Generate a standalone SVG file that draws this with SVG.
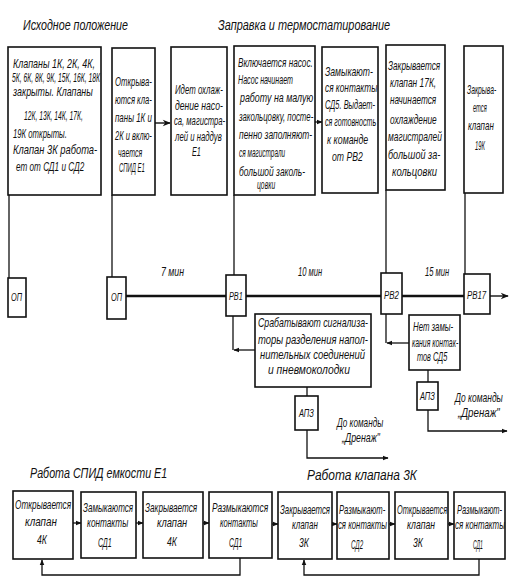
<svg xmlns="http://www.w3.org/2000/svg" width="514" height="583" viewBox="0 0 514 583">
<defs>
<marker id="ah" viewBox="0 0 10 10" refX="9" refY="5" markerWidth="6" markerHeight="6" orient="auto" markerUnits="userSpaceOnUse">
<path d="M0,1 L10,5 L0,9 Z" fill="#111"/>
</marker>
<marker id="ahb" viewBox="0 0 10 10" refX="9" refY="5" markerWidth="9" markerHeight="8" orient="auto" markerUnits="userSpaceOnUse">
<path d="M0,1 L10,5 L0,9 L3,5 Z" fill="#111"/>
</marker>
<style>
rect{fill:#fff;stroke:#111;stroke-width:1.6}
text{font-family:"Liberation Sans",Arial,sans-serif;font-style:italic;fill:#111;font-size:12px}
.h{font-size:15px}
.s{font-size:11px}
.l{fill:none;stroke:#111;stroke-width:1.3}
.m{fill:none;stroke:#111;stroke-width:2.4}
.a{fill:none;stroke:#111;stroke-width:1.3;marker-end:url(#ah)}
.ab{fill:none;stroke:#111;stroke-width:1.4;marker-end:url(#ahb)}
</style>
</defs>
<rect x="0" y="0" width="514" height="583" style="fill:#fff;stroke:none"/>

<g id="titles">
<text class="h" transform="matrix(.7 0 0 1 23 30)" textLength="150" lengthAdjust="spacingAndGlyphs">Исходное положение</text>
<text class="h" transform="matrix(.7 0 0 1 218 30)" textLength="246" lengthAdjust="spacingAndGlyphs">Заправка и термостатирование</text>
<text class="h" transform="matrix(.7 0 0 1 30 478)" textLength="196" lengthAdjust="spacingAndGlyphs">Работа СПИД емкости Е1</text>
<text class="h" transform="matrix(.7 0 0 1 307 480)" textLength="157" lengthAdjust="spacingAndGlyphs">Работа клапана 3К</text>
<text transform="matrix(.55 0 0 1 161 276)" textLength="42" lengthAdjust="spacingAndGlyphs">7 мин</text>
<text transform="matrix(.55 0 0 1 298 276)" textLength="44" lengthAdjust="spacingAndGlyphs">10 мин</text>
<text transform="matrix(.55 0 0 1 425 276)" textLength="44" lengthAdjust="spacingAndGlyphs">15 мин</text>
<text transform="matrix(.55 0 0 1 337 427)" textLength="84" lengthAdjust="spacingAndGlyphs">До команды</text>
<text transform="matrix(.55 0 0 1 342 442)" textLength="69" lengthAdjust="spacingAndGlyphs">„Дренаж"</text>
<text transform="matrix(.55 0 0 1 455 402)" textLength="87" lengthAdjust="spacingAndGlyphs">До команды</text>
<text transform="matrix(.55 0 0 1 458 417)" textLength="76" lengthAdjust="spacingAndGlyphs">„Дренаж"</text>
</g>

<g id="connectors">
<path class="l" d="M9,195 V278"/>
<path class="l" d="M112,195 V277"/>
<path class="l" d="M234,195 V275"/>
<path class="l" d="M386,190 V273"/>
<path class="l" d="M465,193 V274"/>
<path class="m" d="M126,296 H226"/>
<path class="m" d="M246,296 H381"/>
<path class="m" d="M402,296 H464"/>
<path class="ab" d="M490,296 H508"/>
<path class="ab" d="M155,123 H170"/>
<path class="a" d="M315,122 H322"/>
<path class="l" d="M233,316 V350"/>
<path class="a" d="M255,350 H234"/>
<path class="l" d="M386,314 V343"/>
<path class="a" d="M409,343 H387"/>
<path class="l" d="M307,387 V396"/>
<path class="a" d="M307,430 V458 H388"/>
<path class="l" d="M428,370 V382"/>
<path class="a" d="M428,410 V431 H507"/>
<path class="a" d="M73,523 H81"/>
<path class="a" d="M136,523 H143"/>
<path class="a" d="M203,523 H209"/>
<path class="a" d="M272,524 H278"/>
<path class="a" d="M332,524 H337"/>
<path class="a" d="M389,524 H395"/>
<path class="a" d="M448,524 H454"/>
<path class="a" d="M240,558 V575 H42 V560"/>
<path class="a" d="M479,559 V575 H304 V560"/>
</g>

<g id="n1">
<rect x="8" y="47" width="93" height="148"/>
<text transform="matrix(.55 0 0 1 13 68)" textLength="149" lengthAdjust="spacingAndGlyphs">Клапаны 1К, 2К, 4К,</text>
<text transform="matrix(.55 0 0 1 12 82)" textLength="160" lengthAdjust="spacingAndGlyphs">5К, 6К, 8К, 9К, 15К, 16К, 18К</text>
<text transform="matrix(.55 0 0 1 13 96)" textLength="145" lengthAdjust="spacingAndGlyphs">закрыты. Клапаны</text>
<text transform="matrix(.55 0 0 1 24 120)" textLength="107" lengthAdjust="spacingAndGlyphs">12К, 13К, 14К, 17К,</text>
<text transform="matrix(.55 0 0 1 13 138)" textLength="98" lengthAdjust="spacingAndGlyphs">19К открыты.</text>
<text transform="matrix(.55 0 0 1 13 154)" textLength="153" lengthAdjust="spacingAndGlyphs">Клапан 3К работа-</text>
<text transform="matrix(.55 0 0 1 16 171)" textLength="124" lengthAdjust="spacingAndGlyphs">ет от СД1 и СД2</text>
</g>
<g id="n2">
<rect x="112" y="48" width="43" height="147"/>
<text transform="matrix(.55 0 0 1 115 86)" textLength="67" lengthAdjust="spacingAndGlyphs">Открыва-</text>
<text transform="matrix(.55 0 0 1 115 104)" textLength="67" lengthAdjust="spacingAndGlyphs">ются кла-</text>
<text transform="matrix(.55 0 0 1 115 122)" textLength="67" lengthAdjust="spacingAndGlyphs">паны 1К и</text>
<text transform="matrix(.55 0 0 1 115 140)" textLength="67" lengthAdjust="spacingAndGlyphs">2К и вклю-</text>
<text transform="matrix(.55 0 0 1 118 157)" textLength="44" lengthAdjust="spacingAndGlyphs">чается</text>
<text transform="matrix(.55 0 0 1 119 172)" textLength="47" lengthAdjust="spacingAndGlyphs">СПИД Е1</text>
</g>
<g id="n3">
<rect x="171" y="47" width="56" height="148"/>
<text transform="matrix(.55 0 0 1 175 94)" textLength="87" lengthAdjust="spacingAndGlyphs">Идет охлаж-</text>
<text transform="matrix(.55 0 0 1 175 110)" textLength="87" lengthAdjust="spacingAndGlyphs">дение насо-</text>
<text transform="matrix(.55 0 0 1 174 125)" textLength="93" lengthAdjust="spacingAndGlyphs">са, магистра-</text>
<text transform="matrix(.55 0 0 1 175 141)" textLength="85" lengthAdjust="spacingAndGlyphs">лей и наддув</text>
<text transform="matrix(.55 0 0 1 192 156)" textLength="16" lengthAdjust="spacingAndGlyphs">Е1</text>
</g>
<g id="n4">
<rect x="234" y="46" width="81" height="149"/>
<text transform="matrix(.55 0 0 1 238 67)" textLength="136" lengthAdjust="spacingAndGlyphs">Включается насос.</text>
<text transform="matrix(.55 0 0 1 238 84)" textLength="100" lengthAdjust="spacingAndGlyphs">Насос начинает</text>
<text transform="matrix(.55 0 0 1 240 102)" textLength="133" lengthAdjust="spacingAndGlyphs">работу на малую</text>
<text transform="matrix(.55 0 0 1 239 121)" textLength="135" lengthAdjust="spacingAndGlyphs">закольцовку, посте-</text>
<text transform="matrix(.55 0 0 1 239 139)" textLength="133" lengthAdjust="spacingAndGlyphs">пенно заполняют-</text>
<text transform="matrix(.55 0 0 1 239 157)" textLength="84" lengthAdjust="spacingAndGlyphs">ся магистрали</text>
<text transform="matrix(.55 0 0 1 239 176)" textLength="120" lengthAdjust="spacingAndGlyphs">большой заколь-</text>
<text transform="matrix(.55 0 0 1 257 189)" textLength="33" lengthAdjust="spacingAndGlyphs">цовки</text>
</g>
<g id="n5">
<rect x="322" y="47" width="56" height="146"/>
<text transform="matrix(.55 0 0 1 325 76)" textLength="87" lengthAdjust="spacingAndGlyphs">Замыкают-</text>
<text transform="matrix(.55 0 0 1 325 92)" textLength="95" lengthAdjust="spacingAndGlyphs">ся контакты</text>
<text transform="matrix(.55 0 0 1 325 109)" textLength="91" lengthAdjust="spacingAndGlyphs">СД5. Выдает-</text>
<text transform="matrix(.55 0 0 1 325 126)" textLength="93" lengthAdjust="spacingAndGlyphs">ся готовность</text>
<text transform="matrix(.55 0 0 1 327 144)" textLength="75" lengthAdjust="spacingAndGlyphs">к команде</text>
<text transform="matrix(.55 0 0 1 332 161)" textLength="56" lengthAdjust="spacingAndGlyphs">от РВ2</text>
</g>
<g id="n6">
<rect x="386" y="45" width="59" height="145"/>
<text transform="matrix(.55 0 0 1 388 70)" textLength="95" lengthAdjust="spacingAndGlyphs">Закрывается</text>
<text transform="matrix(.55 0 0 1 390 87)" textLength="84" lengthAdjust="spacingAndGlyphs">клапан 17К,</text>
<text transform="matrix(.55 0 0 1 390 104)" textLength="84" lengthAdjust="spacingAndGlyphs">начинается</text>
<text transform="matrix(.55 0 0 1 390 124)" textLength="85" lengthAdjust="spacingAndGlyphs">охлаждение</text>
<text transform="matrix(.55 0 0 1 388 141)" textLength="98" lengthAdjust="spacingAndGlyphs">магистралей</text>
<text transform="matrix(.55 0 0 1 388 159)" textLength="95" lengthAdjust="spacingAndGlyphs">большой за-</text>
<text transform="matrix(.55 0 0 1 392 176)" textLength="82" lengthAdjust="spacingAndGlyphs">кольцовки</text>
</g>
<g id="n7">
<rect x="464" y="46" width="39" height="147"/>
<text transform="matrix(.55 0 0 1 467 94)" textLength="53" lengthAdjust="spacingAndGlyphs">Закрыва-</text>
<text transform="matrix(.55 0 0 1 473 112)" textLength="25" lengthAdjust="spacingAndGlyphs">ется</text>
<text transform="matrix(.55 0 0 1 468 130)" textLength="47" lengthAdjust="spacingAndGlyphs">клапан</text>
<text transform="matrix(.55 0 0 1 475 150)" textLength="18" lengthAdjust="spacingAndGlyphs">19К</text>
</g>

<g id="op1"><rect x="8" y="278" width="18" height="39"/><text class="s" transform="matrix(.55 0 0 1 11 301)" textLength="20" lengthAdjust="spacingAndGlyphs">ОП</text></g>
<g id="op2"><rect x="107" y="277" width="19" height="42"/><text class="s" transform="matrix(.55 0 0 1 111 301)" textLength="20" lengthAdjust="spacingAndGlyphs">ОП</text></g>
<g id="rv1"><rect x="226" y="275" width="20" height="41"/><text class="s" transform="matrix(.55 0 0 1 229 300)" textLength="25" lengthAdjust="spacingAndGlyphs">РВ1</text></g>
<g id="rv2"><rect x="381" y="273" width="21" height="41"/><text class="s" transform="matrix(.55 0 0 1 384 299)" textLength="27" lengthAdjust="spacingAndGlyphs">РВ2</text></g>
<g id="rv17"><rect x="464" y="274" width="26" height="40"/><text class="s" transform="matrix(.55 0 0 1 467 299)" textLength="35" lengthAdjust="spacingAndGlyphs">РВ17</text></g>

<g id="signal">
<rect x="255" y="314" width="116" height="73"/>
<text transform="matrix(.55 0 0 1 258 327)" textLength="200" lengthAdjust="spacingAndGlyphs">Срабатывают сигнализа-</text>
<text transform="matrix(.55 0 0 1 258 344)" textLength="200" lengthAdjust="spacingAndGlyphs">торы разделения напол-</text>
<text transform="matrix(.55 0 0 1 260 359)" textLength="191" lengthAdjust="spacingAndGlyphs">нительных соединений</text>
<text transform="matrix(.55 0 0 1 268 374)" textLength="149" lengthAdjust="spacingAndGlyphs">и пневмоколодки</text>
</g>
<g id="nozam">
<rect x="409" y="315" width="51" height="55"/>
<text transform="matrix(.55 0 0 1 413 331)" textLength="73" lengthAdjust="spacingAndGlyphs">Нет замы-</text>
<text transform="matrix(.55 0 0 1 412 347)" textLength="84" lengthAdjust="spacingAndGlyphs">кания контак-</text>
<text transform="matrix(.55 0 0 1 417 361)" textLength="55" lengthAdjust="spacingAndGlyphs">тов СД5</text>
</g>
<g id="apz1"><rect x="295" y="396" width="23" height="34"/><text class="s" transform="matrix(.55 0 0 1 299 417)" textLength="27" lengthAdjust="spacingAndGlyphs">АПЗ</text></g>
<g id="apz2"><rect x="417" y="382" width="21" height="28"/><text class="s" transform="matrix(.55 0 0 1 420 400)" textLength="27" lengthAdjust="spacingAndGlyphs">АПЗ</text></g>

<g id="b1">
<rect x="13" y="491" width="60" height="68"/>
<text transform="matrix(.55 0 0 1 15 509)" textLength="102" lengthAdjust="spacingAndGlyphs">Открывается</text>
<text transform="matrix(.55 0 0 1 25 526)" textLength="58" lengthAdjust="spacingAndGlyphs">клапан</text>
<text transform="matrix(.55 0 0 1 37 544)" textLength="18" lengthAdjust="spacingAndGlyphs">4К</text>
</g>
<g id="b2">
<rect x="81" y="492" width="55" height="66"/>
<text transform="matrix(.55 0 0 1 83 512)" textLength="91" lengthAdjust="spacingAndGlyphs">Замыкаются</text>
<text transform="matrix(.55 0 0 1 87 527)" textLength="75" lengthAdjust="spacingAndGlyphs">контакты</text>
<text transform="matrix(.55 0 0 1 98 547)" textLength="25" lengthAdjust="spacingAndGlyphs">СД1</text>
</g>
<g id="b3">
<rect x="143" y="492" width="60" height="66"/>
<text transform="matrix(.55 0 0 1 145 512)" textLength="95" lengthAdjust="spacingAndGlyphs">Закрывается</text>
<text transform="matrix(.55 0 0 1 157 527)" textLength="55" lengthAdjust="spacingAndGlyphs">клапан</text>
<text transform="matrix(.55 0 0 1 167 546)" textLength="18" lengthAdjust="spacingAndGlyphs">4К</text>
</g>
<g id="b4">
<rect x="209" y="492" width="63" height="66"/>
<text transform="matrix(.55 0 0 1 212 512)" textLength="102" lengthAdjust="spacingAndGlyphs">Размыкаются</text>
<text transform="matrix(.55 0 0 1 220 527)" textLength="69" lengthAdjust="spacingAndGlyphs">контакты</text>
<text transform="matrix(.55 0 0 1 229 547)" textLength="24" lengthAdjust="spacingAndGlyphs">СД1</text>
</g>
<g id="b5">
<rect x="278" y="492" width="54" height="67"/>
<text transform="matrix(.55 0 0 1 280 514)" textLength="91" lengthAdjust="spacingAndGlyphs">Закрывается</text>
<text transform="matrix(.55 0 0 1 292 529)" textLength="47" lengthAdjust="spacingAndGlyphs">клапан</text>
<text transform="matrix(.55 0 0 1 299 547)" textLength="18" lengthAdjust="spacingAndGlyphs">3К</text>
</g>
<g id="b6">
<rect x="337" y="492" width="52" height="67"/>
<text transform="matrix(.55 0 0 1 339 514)" textLength="84" lengthAdjust="spacingAndGlyphs">Размыкают-</text>
<text transform="matrix(.55 0 0 1 338 529)" textLength="89" lengthAdjust="spacingAndGlyphs">ся контакты</text>
<text transform="matrix(.55 0 0 1 351 549)" textLength="22" lengthAdjust="spacingAndGlyphs">СД2</text>
</g>
<g id="b7">
<rect x="395" y="492" width="53" height="67"/>
<text transform="matrix(.55 0 0 1 397 514)" textLength="91" lengthAdjust="spacingAndGlyphs">Открывается</text>
<text transform="matrix(.55 0 0 1 407 529)" textLength="51" lengthAdjust="spacingAndGlyphs">клапан</text>
<text transform="matrix(.55 0 0 1 413 547)" textLength="18" lengthAdjust="spacingAndGlyphs">3К</text>
</g>
<g id="b8">
<rect x="454" y="492" width="51" height="67"/>
<text transform="matrix(.55 0 0 1 457 514)" textLength="82" lengthAdjust="spacingAndGlyphs">Размыкают-</text>
<text transform="matrix(.55 0 0 1 455 529)" textLength="91" lengthAdjust="spacingAndGlyphs">ся контакты</text>
<text transform="matrix(.55 0 0 1 473 549)" textLength="18" lengthAdjust="spacingAndGlyphs">СД1</text>
</g>
</svg>
